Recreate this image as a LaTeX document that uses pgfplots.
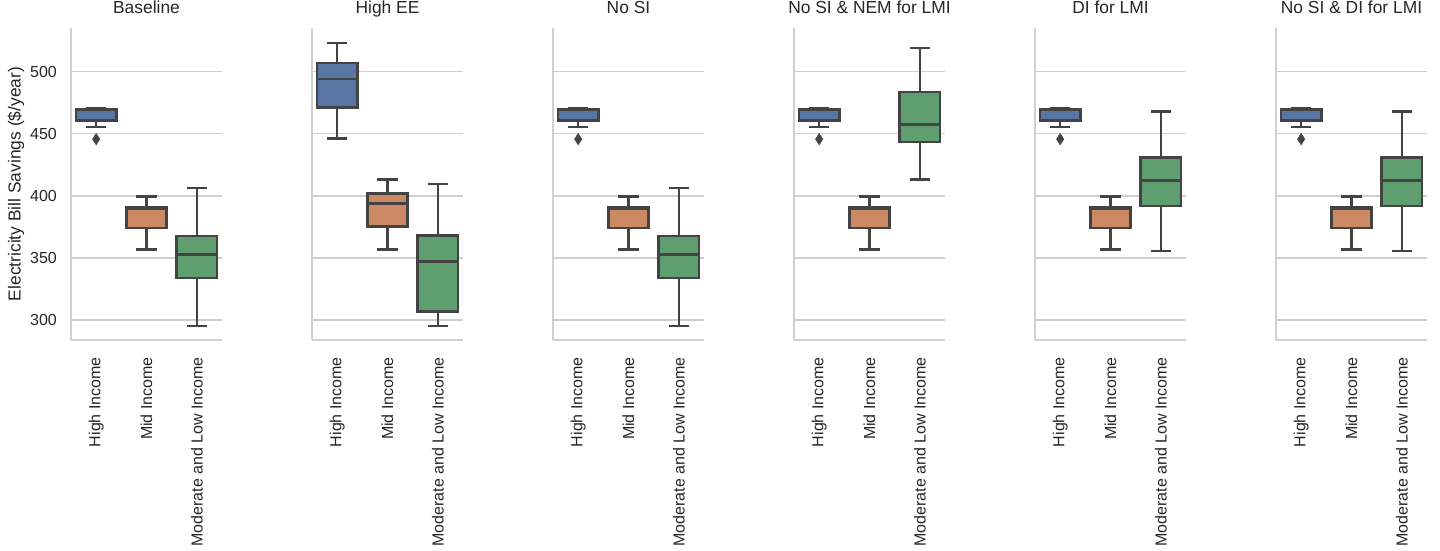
\documentclass[border=0pt]{standalone}
\usepackage{fontspec}
\setmainfont{Liberation Sans}
\usepackage{pgfplots}
\pgfplotsset{compat=1.18}
\definecolor{sbblue}{HTML}{5975A4}
\definecolor{sborange}{HTML}{CC8963}
\definecolor{sbgreen}{HTML}{5F9E6E}
\definecolor{linegray}{HTML}{434343}
\definecolor{gridgray}{HTML}{D0D0D0}
\definecolor{textgray}{HTML}{262626}
\pgfplotsset{
  panel/.style={
    scale only axis, width=151pt, height=312pt,
    anchor=south west,
    xmin=-0.5, xmax=2.5, ymin=284, ymax=535,
    axis x line*=bottom, axis y line*=left,
    axis line style={gridgray, line width=1.8pt},
    xtick={0,1,2},
    xticklabels={High Income, Mid Income, Moderate and Low Income},
    ytick={300,350,400,450,500},
    major tick length=0pt,
    ymajorgrids, grid style={gridgray, line width=1.5pt},
    tick label style={font=\fontsize{16}{18}\selectfont, text=textgray, inner sep=0pt},
    xticklabel style={rotate=90, anchor=east},
    xticklabel shift=17pt,
    yticklabel shift=14pt,
    /pgf/number format/assume math mode=true,
    title style={font=\fontsize{17.4}{20}\selectfont, text=textgray, anchor=base, yshift=9pt},
    clip=false,
  },
  bxline/.style={draw=linegray, line width=2.5pt, mark=none},
}
% #1 position, #2 lower whisker, #3 lower quartile, #4 median, #5 upper quartile, #6 upper whisker, #7 fill colour
\newcommand{\bx}[7]{%
  \pgfmathsetmacro{\xl}{#1-0.4}\pgfmathsetmacro{\xr}{#1+0.4}%
  \pgfmathsetmacro{\cl}{#1-0.2}\pgfmathsetmacro{\cr}{#1+0.2}%
  \addplot[bxline] coordinates {(#1,#5) (#1,#6)};
  \addplot[bxline] coordinates {(#1,#3) (#1,#2)};
  \addplot[bxline] coordinates {(\cl,#6) (\cr,#6)};
  \addplot[bxline] coordinates {(\cl,#2) (\cr,#2)};
  \addplot[bxline, fill=#7, line join=miter] coordinates {(\xl,#3) (\xr,#3) (\xr,#5) (\xl,#5)} -- cycle;
  \addplot[bxline] coordinates {(\xl,#4) (\xr,#4)};
}
\newcommand{\outl}[2]{%
  \addplot[only marks, mark=diamond*, mark size=5.8pt, mark options={fill=linegray, draw=linegray, line width=0.4pt, xscale=0.85}] coordinates {(#1,#2)};
}
\begin{document}
\begin{tikzpicture}
\useasboundingbox (0,0) rectangle (1440pt,-550pt);
% ---------------- Baseline
\begin{axis}[panel, at={(71pt,-340pt)}, title={Baseline},
  ylabel={Electricity Bill Savings (\$/year)},
  ylabel style={font=\fontsize{17.4}{20}\selectfont, text=textgray, at={(axis description cs:-0.364,0.5)}, anchor=center}]
\bx{0}{455.3}{460.4}{469}{470}{470.8}{sbblue}
\outl{0}{445.6}
\bx{1}{357}{374}{389.5}{391}{399.6}{sborange}
\bx{2}{295.4}{334}{352.8}{367.7}{406.3}{sbgreen}
\end{axis}
% ---------------- High EE
\begin{axis}[panel, at={(312pt,-340pt)}, title={High EE}, yticklabels={}]
\bx{0}{446}{471}{494.1}{507}{523}{sbblue}
\bx{1}{357}{375.5}{393.7}{402}{413}{sborange}
\bx{2}{295.4}{307}{347.2}{368}{409.5}{sbgreen}
\end{axis}
% ---------------- No SI
\begin{axis}[panel, at={(553pt,-340pt)}, title={No SI}, yticklabels={}]
\bx{0}{455.3}{460.4}{469}{470}{470.8}{sbblue}
\outl{0}{445.6}
\bx{1}{357}{374}{389.5}{391}{399.6}{sborange}
\bx{2}{295.4}{334}{352.8}{367.7}{406.3}{sbgreen}
\end{axis}
% ---------------- No SI & NEM for LMI
\begin{axis}[panel, at={(794pt,-340pt)}, title={No SI \& NEM for LMI}, yticklabels={}]
\bx{0}{455.3}{460.4}{469}{470}{470.8}{sbblue}
\outl{0}{445.6}
\bx{1}{357}{374}{389.5}{391}{399.6}{sborange}
\bx{2}{413}{443.2}{457.2}{483.4}{519}{sbgreen}
\end{axis}
% ---------------- DI for LMI
\begin{axis}[panel, at={(1035pt,-340pt)}, title={DI for LMI}, yticklabels={}]
\bx{0}{455.3}{460.4}{469}{470}{470.8}{sbblue}
\outl{0}{445.6}
\bx{1}{357}{374}{389.5}{391}{399.6}{sborange}
\bx{2}{355.7}{391.8}{412.2}{431}{468}{sbgreen}
\end{axis}
% ---------------- No SI & DI for LMI
\begin{axis}[panel, at={(1276pt,-340pt)}, title={No SI \& DI for LMI}, yticklabels={}]
\bx{0}{455.3}{460.4}{469}{470}{470.8}{sbblue}
\outl{0}{445.6}
\bx{1}{357}{374}{389.5}{391}{399.6}{sborange}
\bx{2}{355.7}{391.8}{412.2}{431}{468}{sbgreen}
\end{axis}
\end{tikzpicture}
\end{document}
